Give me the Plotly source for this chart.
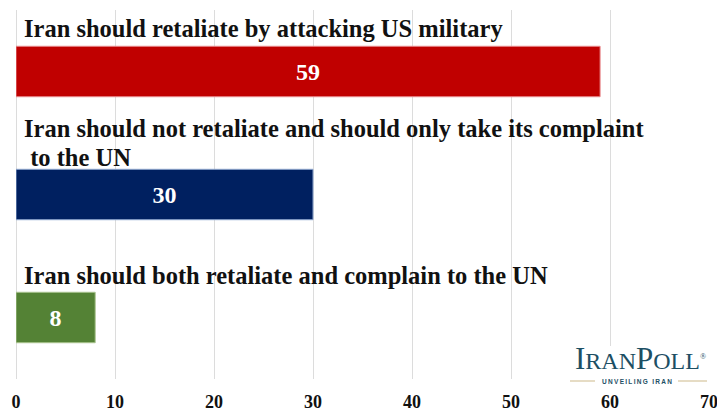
import plotly.graph_objects as go

# Survey responses (percent)
labels = [
    "Iran should retaliate by attacking US military",
    "Iran should not retaliate and should only take its complaint<br>\u00a0to the UN",
    "Iran should both retaliate and complain to the UN",
]
values = [59, 30, 8]
bar_colors = ["#C00000", "#002060", "#548235"]
edge_colors = ["#E8898C", "#8FA7CF", "#A9C48F"]
x_ticks = [0, 10, 20, 30, 40, 50, 60, 70]

W, H = 717, 412
ML, MR, MT, MB = 16, 8, 10, 33
PW, PH = W - ML - MR, H - MT - MB

def px_x(p):
    return (p - ML) / PW

def px_y(p):
    return (H - MB - p) / PH

SERIF = "Liberation Serif"
LABEL_FS = 24.5
LINE_GAP = 28.5
# baseline of the last label line above the bar centre (px)
last_line_offset = [35.5, 30, 35]

pos = list(range(len(values)))

fig = go.Figure(
    go.Bar(
        x=values,
        y=pos,
        orientation="h",
        width=0.41,
        marker=dict(color=bar_colors, line=dict(color=edge_colors, width=1)),
        text=[str(v) for v in values],
        textposition="inside",
        insidetextanchor="middle",
        textangle=0,
        constraintext="none",
        textfont=dict(family=SERIF, size=24, color="white", weight="bold"),
        hoverinfo="skip",
    )
)

annotations = []
for i, lab in enumerate(labels):
    lines = lab.split("<br>")
    n = len(lines)
    for j, line in enumerate(lines):
        baseline = last_line_offset[i] + (n - 1 - j) * LINE_GAP
        annotations.append(
            dict(
                x=0, y=i, xref="x", yref="y",
                text=line, showarrow=False,
                xanchor="left", yanchor="middle",
                xshift=6, yshift=baseline + 0.3 * LABEL_FS,
                font=dict(family=SERIF, size=LABEL_FS, color="#111111", weight="bold"),
            )
        )

# IranPoll wordmark
TEAL = "#1d4f64"
GOLD = "#cdb98a"
annotations.append(
    dict(
        x=px_x(573), y=px_y(358), xref="paper", yref="paper",
        xanchor="left", yanchor="middle", showarrow=False,
        text=("<span style='font-size:31px'>I</span>RAN"
              "<span style='font-size:31px'>P</span>OLL"
              "<sup><span style='font-size:8px'>\u00ae</span></sup>"),
        font=dict(family=SERIF, size=24, color=TEAL),
    )
)
annotations.append(
    dict(
        x=px_x(637), y=px_y(381), xref="paper", yref="paper",
        xanchor="center", yanchor="middle", showarrow=False,
        text="\u2009".join("UNVEILING IRAN"),
        font=dict(family="Liberation Sans", size=6.5, color=TEAL, weight="bold"),
    )
)

shapes = [
    dict(type="rect", xref="paper", yref="paper", layer="above",
         x0=px_x(565), x1=px_x(717), y0=px_y(382), y1=px_y(346),
         fillcolor="white", line=dict(width=0)),
    dict(type="line", xref="paper", yref="paper", layer="above",
         x0=px_x(570), x1=px_x(595), y0=px_y(381), y1=px_y(381),
         line=dict(color=GOLD, width=1)),
    dict(type="line", xref="paper", yref="paper", layer="above",
         x0=px_x(678), x1=px_x(707), y0=px_y(381), y1=px_y(381),
         line=dict(color=GOLD, width=1)),
]

fig.update_layout(
    width=W, height=H,
    margin=dict(l=ML, r=MR, t=MT, b=MB, pad=0, autoexpand=False),
    paper_bgcolor="white", plot_bgcolor="white",
    showlegend=False,
    annotations=annotations,
    shapes=shapes,
    xaxis=dict(
        range=[0, 70], tickvals=x_ticks, ticktext=[str(t) for t in x_ticks],
        showgrid=True, gridcolor="#dcdcdc", gridwidth=1,
        zeroline=True, zerolinecolor="#dcdcdc", zerolinewidth=1,
        showline=False, ticks="outside", ticklen=6, tickcolor="rgba(0,0,0,0)",
        tickfont=dict(family=SERIF, size=18, color="#111111", weight="bold"),
        ticklabeloverflow="allow", automargin=False,
        fixedrange=True,
    ),
    yaxis=dict(
        range=[2.5, -0.5], showticklabels=False, showgrid=False,
        zeroline=False, showline=False, fixedrange=True, automargin=False,
    ),
)

fig.write_html("out.html")
